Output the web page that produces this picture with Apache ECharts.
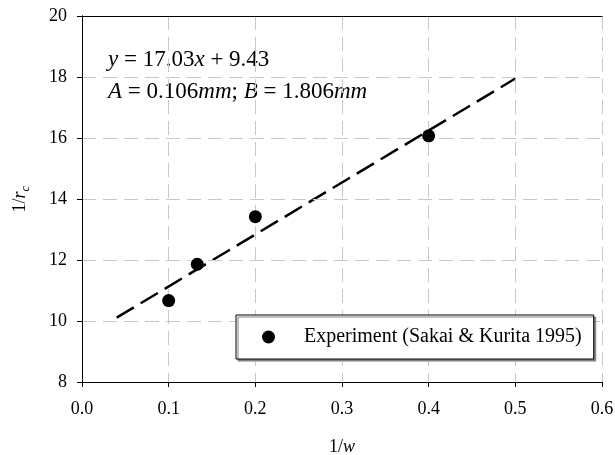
<!DOCTYPE html>
<html>
<head>
<meta charset="utf-8">
<script src="https://cdn.jsdelivr.net/npm/echarts@6/dist/echarts.min.js"></script>
<style>
  html, body { margin: 0; padding: 0; background: #fff; }
  #main { width: 615px; height: 455px; }
</style>
</head>
<body>
<div id="main"></div>
<script>
// measured points (1/w, 1/rc)
const expX = [0.1, 0.133, 0.2, 0.4]
const expY = [10.67, 11.86, 13.42, 16.07]
// fitted line y = 17.03x + 9.43, ends
const fitX = [0.04, 0.5]
const fitY = [10.11, 17.95]
const xTicks = [0, 0.1, 0.2, 0.3, 0.4, 0.5, 0.6]
const legendName = 'Experiment (Sakai & Kurita 1995)'

const serif = '"Liberation Serif", "Times New Roman", serif'

var myChart = echarts.init(document.getElementById('main'))

const gridDash = { color: '#c8c8c8', type: [14, 7], width: 1 }

let option = {
    animation: false,
    backgroundColor: '#fff',
    textStyle: { fontFamily: serif, color: '#000' },
    grid: { left: 82, right: 13, top: 16, bottom: 73, outerBoundsMode: 'none', containLabel: false },
    xAxis: [
        {
            type: 'value',
            min: xTicks[0],
            max: xTicks[xTicks.length - 1],
            interval: 0.1,
            name: '{n|1/}{i|w}',
            nameLocation: 'middle',
            nameGap: 56,
            nameTextStyle: {
                rich: {
                    n: { fontFamily: serif, fontSize: 18, color: '#000' },
                    i: { fontFamily: serif, fontSize: 18, fontStyle: 'italic', color: '#000' }
                }
            },
            axisLine: { lineStyle: { color: '#000', width: 1 } },
            axisTick: { show: true, inside: false, length: 5, lineStyle: { color: '#000' } },
            axisLabel: {
                color: '#000', fontFamily: serif, fontSize: 18, margin: 18,
                formatter: v => v.toFixed(1)
            },
            splitLine: { show: true, lineStyle: gridDash },
            z: 3
        },
        {
            // top frame line
            type: 'value', position: 'top',
            min: xTicks[0], max: xTicks[xTicks.length - 1],
            axisLine: { show: true, lineStyle: { color: '#000', width: 1 } },
            axisTick: { show: false }, axisLabel: { show: false }, splitLine: { show: false },
            z: 3
        }
    ],
    yAxis: [
        {
            type: 'value',
            min: 8,
            max: 20,
            interval: 2,
            name: '{n|1/}{i|r}{s|c}',
            nameLocation: 'middle',
            nameRotate: 90,
            nameGap: 50,
            nameTextStyle: {
                rich: {
                    n: { fontFamily: serif, fontSize: 18, color: '#000', lineHeight: 24 },
                    i: { fontFamily: serif, fontSize: 18, fontStyle: 'italic', color: '#000', lineHeight: 24 },
                    s: { fontFamily: serif, fontSize: 13, fontStyle: 'italic', color: '#000', verticalAlign: 'bottom', lineHeight: 24 }
                }
            },
            axisLine: { show: true, lineStyle: { color: '#000', width: 1 } },
            axisTick: { show: true, inside: false, length: 5, lineStyle: { color: '#000' } },
            axisLabel: { color: '#000', fontFamily: serif, fontSize: 18, margin: 15 },
            splitLine: { show: true, lineStyle: gridDash },
            z: 3
        },
        {
            // right frame line
            type: 'value', position: 'right',
            min: 8, max: 20,
            axisLine: { show: true, lineStyle: { color: '#000', width: 1 } },
            axisTick: { show: false }, axisLabel: { show: false }, splitLine: { show: false },
            z: 3
        }
    ],
    legend: {
        data: [legendName],
        left: 236,
        top: 315,
        orient: 'horizontal',
        itemWidth: 13,
        itemHeight: 13,
        itemGap: 0,
        padding: [12, 12, 12, 26],
        backgroundColor: '#fff',
        borderColor: '#000',
        borderWidth: 1,
        borderRadius: 0,
        shadowColor: '#808080',
        shadowBlur: 0,
        shadowOffsetX: 2,
        shadowOffsetY: 2,
        itemStyle: { opacity: 1 },
        textStyle: { fontFamily: serif, fontSize: 20, color: '#000', padding: [0, 0, 0, 24] }
    },
    graphic: [
        {
            type: 'text',
            left: 108,
            top: 48,
            style: {
                text: '{i|y}{n| = 17.03}{i|x}{n| + 9.43}',
                rich: {
                    n: { fontFamily: serif, fontSize: 23, fill: '#000' },
                    i: { fontFamily: serif, fontSize: 23, fontStyle: 'italic', fill: '#000' }
                }
            }
        },
        {
            type: 'text',
            left: 108,
            top: 80,
            style: {
                text: '{i|A}{n| = 0.106}{i|mm}{n|; }{i|B}{n| = 1.806}{i|mm}',
                rich: {
                    n: { fontFamily: serif, fontSize: 23, fill: '#000' },
                    i: { fontFamily: serif, fontSize: 23, fontStyle: 'italic', fill: '#000' }
                }
            }
        }
    ],
    series: [
        {
            name: 'fit',
            type: 'line',
            data: fitX.map((x, i) => [x, fitY[i]]),
            showSymbol: false,
            symbol: 'none',
            lineStyle: { color: '#000', width: 2.5, type: [20, 8] },
            z: 2
        },
        {
            name: legendName,
            type: 'scatter',
            data: expX.map((x, i) => [x, expY[i]]),
            symbol: 'circle',
            symbolSize: 13,
            itemStyle: { color: '#000', opacity: 1 },
            z: 3
        }
    ]
}

myChart.setOption(option)
</script>
</body>
</html>
